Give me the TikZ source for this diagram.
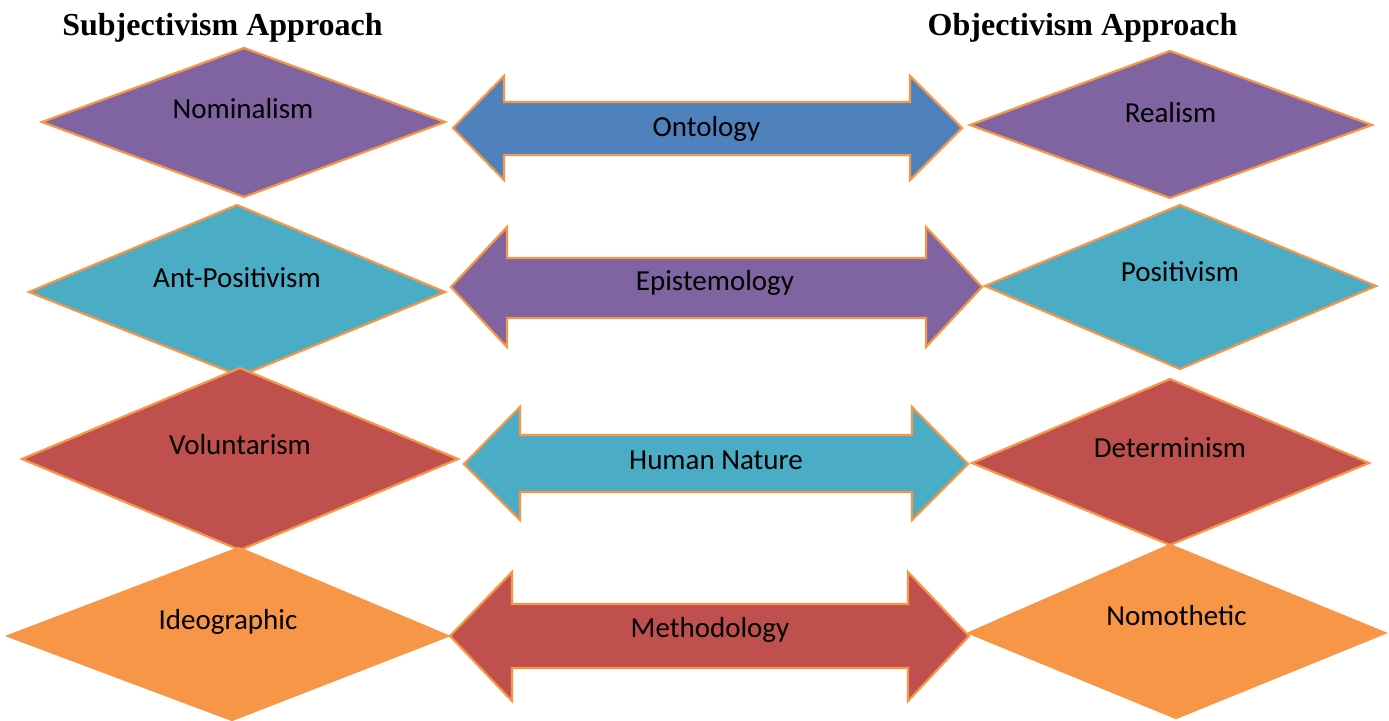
\documentclass[tikz,border=0pt]{standalone}
\usepackage{fontspec}
\setmainfont{Carlito}
\newfontfamily\titlefont{Liberation Serif}
\definecolor{cpurple}{HTML}{8064A2}
\definecolor{cblue}{HTML}{4F81BD}
\definecolor{cteal}{HTML}{4BACC6}
\definecolor{cred}{HTML}{C0504D}
\definecolor{corange}{HTML}{F79646}
\definecolor{cline}{HTML}{F79646}
\tikzset{
  shapebox/.style={draw=cline, line width=2.2pt, line join=miter},
  lbl/.style={anchor=base, inner sep=0pt, font=\fontsize{29}{34}\selectfont, text=black},
  ttl/.style={anchor=base, inner sep=0pt, font=\titlefont\bfseries\fontsize{32}{38}\selectfont, text=black}
}
\begin{document}
\begin{tikzpicture}[x=1pt, y=-1pt]
\useasboundingbox (0,0) rectangle (1389,720);

% titles
\node[ttl] (tsub) at (222.5,35) {Subjectivism Approach};
\node[ttl] (tobj) at (1082.5,35) {Objectivism Approach};

% left diamonds
\draw[shapebox, fill=cpurple] (42,122) -- (244,48) -- (445,122) -- (244,197) -- cycle;
\draw[shapebox, fill=cteal] (29,292) -- (237,205) -- (445,292) -- (240,376) -- cycle;
\draw[shapebox, fill=cred] (22,459) -- (240,368) -- (458,459) -- (240,550) -- cycle;
\draw[shapebox, fill=corange] (8,636) -- (239,548) -- (448,636) -- (232,720) -- cycle;

% right diamonds
\draw[shapebox, fill=cpurple] (970,125) -- (1170,51) -- (1372,125) -- (1170,198) -- cycle;
\draw[shapebox, fill=cteal] (985,286) -- (1180,205) -- (1376,286) -- (1180,369) -- cycle;
\draw[shapebox, fill=cred] (972,463) -- (1170,379) -- (1369,463) -- (1170,545) -- cycle;
\draw[shapebox, fill=corange] (969,633) -- (1170,545) -- (1385,633) -- (1176,718) -- cycle;

% double arrows
\draw[shapebox, fill=cblue] (453,128) -- (504,76) -- (504,102) -- (910,102) -- (910,76) -- (962,128) -- (910,180) -- (910,155) -- (504,155) -- (504,180) -- cycle;
\draw[shapebox, fill=cpurple] (451,287) -- (507,227) -- (507,258) -- (926,258) -- (926,227) -- (982,287) -- (926,347) -- (926,318) -- (507,318) -- (507,347) -- cycle;
\draw[shapebox, fill=cteal] (464,464) -- (520,407) -- (520,435) -- (912,435) -- (912,407) -- (968,464) -- (912,520) -- (912,492) -- (520,492) -- (520,520) -- cycle;
\draw[shapebox, fill=cred] (450,636) -- (512,572) -- (512,604) -- (908,604) -- (908,572) -- (969,636) -- (908,701) -- (908,668) -- (512,668) -- (512,701) -- cycle;

% labels
\node[lbl] (nom) at (243,118) {Nominalism};
\node[lbl] (antp) at (237,287) {Ant-Positivism};
\node[lbl] (vol) at (240,454) {Voluntarism};
\node[lbl] (ideo) at (228,629) {Ideographic};

\node[lbl] (real) at (1170.5,122) {Realism};
\node[lbl] (pos) at (1180,281) {Positivism};
\node[lbl] (det) at (1170,457) {Determinism};
\node[lbl] (nomo) at (1176.5,625) {Nomothetic};

\node[lbl] (onto) at (706.5,136) {Ontology};
\node[lbl] (epis) at (715,290) {Epistemology};
\node[lbl] (hum) at (716,469) {Human Nature};
\node[lbl] (meth) at (710,637) {Methodology};
\end{tikzpicture}
\end{document}
